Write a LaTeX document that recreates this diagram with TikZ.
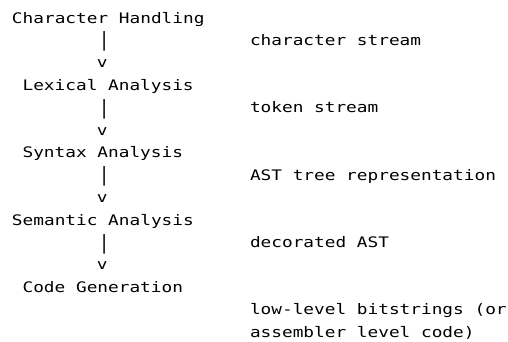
\documentclass[tikz,border=0pt]{standalone}
\usepackage{fontspec}
\newfontfamily\diagmono[FakeStretch=1.225]{DejaVu Sans Mono}
\begin{document}
\begin{tikzpicture}[x=1pt,y=-1pt,
  txt/.style={anchor=base west,inner sep=0pt,outer sep=0pt,
    font=\diagmono\fontsize{14.5}{22}\selectfont,text=black},
  pipe/.style={anchor=base west,inner sep=0pt,outer sep=0pt,
    font=\diagmono\fontsize{14.5}{22}\selectfont,text=black,xshift=2pt}]
\useasboundingbox[fill=white] (0,0) rectangle (508,341);
\def\cw{10.6}
\def\lh{22.45}
\newcommand\tallbar{\raisebox{-1.5pt}{\scalebox{1}[1.35]{|}}}
% left column stages
\node[txt] (ch)  at (12+0*\cw, 23+0*\lh)  {Character Handling};
\node[pipe] (p1) at (12+8*\cw, 23+1*\lh)  {\tallbar};
\node[txt] (v1)  at (12+8*\cw, 23+2*\lh)  {v};
\node[txt] (la)  at (12+1*\cw, 23+3*\lh)  {Lexical Analysis};
\node[pipe] (p2) at (12+8*\cw, 23+4*\lh)  {\tallbar};
\node[txt] (v2)  at (12+8*\cw, 23+5*\lh)  {v};
\node[txt] (sa)  at (12+1*\cw, 23+6*\lh)  {Syntax Analysis};
\node[pipe] (p3) at (12+8*\cw, 23+7*\lh)  {\tallbar};
\node[txt] (v3)  at (12+8*\cw, 23+8*\lh)  {v};
\node[txt] (sem) at (12+0*\cw, 23+9*\lh)  {Semantic Analysis};
\node[pipe] (p4) at (12+8*\cw, 23+10*\lh) {\tallbar};
\node[txt] (v4)  at (12+8*\cw, 23+11*\lh) {v};
\node[txt] (cg)  at (12+1*\cw, 23+12*\lh) {Code Generation};
% right column data
\node[txt] (d1) at (250, 23+1*\lh)  {character stream};
\node[txt] (d2) at (250, 23+4*\lh)  {token stream};
\node[txt] (d3) at (250, 23+7*\lh)  {AST tree representation};
\node[txt] (d4) at (250, 23+10*\lh) {decorated AST};
\node[txt] (d5) at (250, 23+13*\lh) {low-level bitstrings (or};
\node[txt] (d6) at (250, 23+14*\lh) {assembler level code)};
\end{tikzpicture}
\end{document}
